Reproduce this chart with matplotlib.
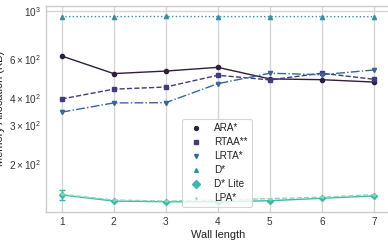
import matplotlib
matplotlib.use("Agg")
import matplotlib.pyplot as plt
import seaborn as sns
from matplotlib.lines import Line2D

wall_length = [1, 2, 3, 4, 5, 6, 7]
ara = [621, 516, 530, 551, 488, 484, 472]
rtaa = [395, 438, 448, 507, 483, 518, 486]
lrta = [344, 379, 380, 464, 518, 510, 536]
dstar = [940, 940, 941, 940, 940, 940, 939]
dlite = [144, 135, 134, 134, 135.5, 139, 142.5]
dlite_err = [7, 0, 0, 0, 0, 0, 0]
lpa = [145, 136.5, 135, 136.5, 138.5, 140.5, 144.5]

labels = ["ARA*", "RTAA**", "LRTA*", "D*", "D* Lite", "LPA*"]
series = [ara, rtaa, lrta, dstar, dlite, lpa]
markers = ["o", "s", "v", "^", "D", "."]
linestyles = ["-", "--", "-.", ":", "-", "--"]

sns.set_theme(style="whitegrid")
plt.rcParams["font.family"] = ["Liberation Sans", "DejaVu Sans"]
colors = sns.color_palette("mako", 6)

fig = plt.figure(figsize=(3.88, 2.45), dpi=100)
ax = fig.add_axes([46 / 388, 33.3 / 245, 343.6 / 388, 206 / 245])

for i, (lab, ys) in enumerate(zip(labels, series)):
    ax.plot(wall_length, ys, color=colors[i], linestyle=linestyles[i],
            marker=markers[i], markersize=3 if markers[i] != "." else 2,
            linewidth=1.0, zorder=3)
    if lab == "D* Lite":
        ax.errorbar(wall_length, ys, yerr=dlite_err, fmt="none",
                    ecolor=colors[i], elinewidth=1.0, capsize=2, zorder=3)

ax.set_yscale("log")
ax.set_ylim(120.7, 1054)
ax.set_xlim(0.7, 7.3)
ax.set_xticks(wall_length)
ax.tick_params(axis="both", which="both", length=0, labelsize=7.2, colors="#333333")
ax.tick_params(axis="x", pad=4)
ax.grid(True, which="major", color="#d5d5d5", linewidth=1.0)
ax.grid(False, which="minor")
for s in ax.spines.values():
    s.set_color("#cccccc")
    s.set_linewidth(1.0)

ax.set_xlabel("Wall length", fontsize=7.9, color="#222222", labelpad=2)
ax.set_ylabel("Memory Allocation (KB)", fontsize=7.9, color="#222222", labelpad=3)

legend_sizes = {"o": 2.8, "s": 2.8, "v": 2.8, "^": 2.8, "D": 3.6, ".": 1.6}
handles = [Line2D([], [], linestyle="none", marker=m, color=c,
                  markersize=legend_sizes[m])
           for m, c in zip(markers, colors)]
leg = ax.legend(handles, labels, loc="upper left", bbox_to_anchor=(0.396, 0.45),
                borderaxespad=0, fontsize=7.2, labelspacing=0.4, frameon=True)
leg.get_frame().set_edgecolor("#cccccc")
leg.get_frame().set_linewidth(0.8)
for t in leg.get_texts():
    t.set_color("#222222")

fig.savefig("out.png", dpi=100)
